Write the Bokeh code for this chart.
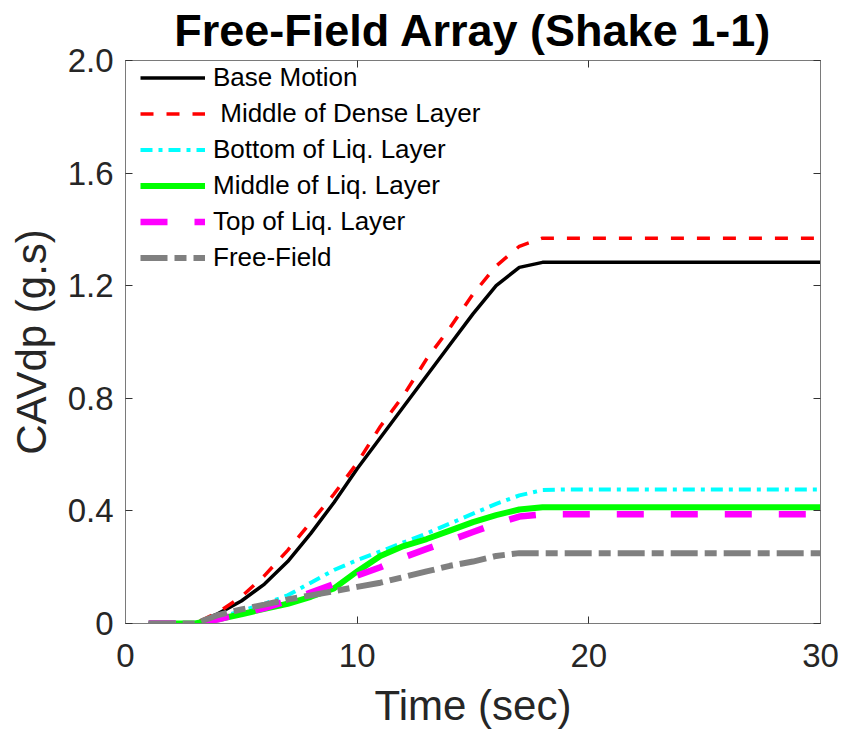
from bokeh.plotting import figure
from bokeh.models import LinearAxis, FixedTicker, Legend, LegendItem, Range1d, CustomLabelingPolicy
from bokeh.embed import file_html
from bokeh.resources import INLINE

# ---- data ----
time_s = [1, 2, 3, 4, 5, 6, 7, 8, 9, 10, 11, 12, 13, 14, 15,
          16, 17, 18, 19, 20, 21, 22, 23, 24, 25, 26, 27, 28, 29, 30]
base_motion = [0, 0, 0, 0.035, 0.08, 0.14, 0.22, 0.32, 0.43, 0.55, 0.66, 0.77, 0.88, 0.99, 1.10,
               1.20, 1.265, 1.283, 1.283, 1.283, 1.283, 1.283, 1.283, 1.283, 1.283, 1.283, 1.283, 1.283, 1.283, 1.283]
mid_dense = [0, 0, 0, 0.04, 0.095, 0.17, 0.26, 0.36, 0.46, 0.57, 0.70, 0.81, 0.94, 1.05, 1.17,
             1.27, 1.34, 1.369, 1.369, 1.369, 1.369, 1.369, 1.369, 1.369, 1.369, 1.369, 1.369, 1.369, 1.369, 1.369]
bot_liq = [0, 0, 0, 0.02, 0.045, 0.07, 0.10, 0.145, 0.19, 0.225, 0.256, 0.288, 0.32, 0.355, 0.39,
           0.425, 0.455, 0.474, 0.476, 0.476, 0.476, 0.476, 0.476, 0.476, 0.476, 0.476, 0.476, 0.476, 0.476, 0.476]
mid_liq = [0, 0, 0, 0.015, 0.033, 0.052, 0.07, 0.095, 0.125, 0.185, 0.24, 0.275, 0.30, 0.33, 0.36,
           0.385, 0.405, 0.413, 0.413, 0.413, 0.413, 0.413, 0.413, 0.413, 0.413, 0.413, 0.413, 0.413, 0.413, 0.413]
top_liq = [0, 0, 0, 0.015, 0.035, 0.055, 0.08, 0.11, 0.14, 0.17, 0.20, 0.235, 0.265, 0.295, 0.325,
           0.355, 0.38, 0.388, 0.388, 0.388, 0.388, 0.388, 0.388, 0.388, 0.388, 0.388, 0.388, 0.388, 0.388, 0.388]
free_field = [0, 0, 0, 0.03, 0.05, 0.067, 0.085, 0.10, 0.115, 0.13, 0.145, 0.165, 0.185, 0.205, 0.22,
              0.24, 0.25, 0.25, 0.25, 0.25, 0.25, 0.25, 0.25, 0.25, 0.25, 0.25, 0.25, 0.25, 0.25, 0.25]

series_labels = ["Base Motion", " Middle of Dense Layer", "Bottom of Liq. Layer",
                 "Middle of Liq. Layer", "Top of Liq. Layer", "Free-Field"]
x_ticks = [0, 10, 20, 30]
y_ticks = [0, 0.4, 0.8, 1.2, 1.6, 2.0]
y_tick_labels = ["0", "0.4", "0.8", "1.2", "1.6", "2.0"]

FONT = "Liberation Sans"
TICK_COL = "#262626"
FRAME_COL = "#7a7a7a"

p = figure(width=844, height=738, output_backend="svg", toolbar_location=None,
           x_range=Range1d(0, 30), y_range=Range1d(0, 2.0),
           min_border_left=125, min_border_right=24, min_border_top=60, min_border_bottom=115)
p.title.text = "Free-Field Array (Shake 1-1)"
p.title.text_font = FONT
p.title.text_font_size = "45px"
p.title.text_font_style = "bold"
p.title.text_color = "#000000"
p.title.align = "center"
p.title.offset = 0
p.title.standoff = 2

p.grid.visible = False
p.background_fill_color = "white"
p.border_fill_color = "white"
p.outline_line_color = FRAME_COL
p.outline_line_width = 1

def style_axis(ax, show_labels=True):
    ax.axis_line_color = FRAME_COL
    ax.major_tick_line_color = "#333333"
    ax.major_tick_in = 7
    ax.major_tick_out = 0
    ax.minor_tick_line_color = None
    ax.major_label_text_font = FONT
    ax.major_label_text_color = TICK_COL
    ax.major_label_text_font_size = "33px" if show_labels else "1px"
    ax.axis_label_text_font = FONT
    ax.axis_label_text_color = TICK_COL
    ax.axis_label_text_font_size = "42px"
    ax.axis_label_text_font_style = "normal"

xa = p.xaxis[0]
ya = p.yaxis[0]
xa.ticker = FixedTicker(ticks=x_ticks)
ya.ticker = FixedTicker(ticks=y_ticks)
ya.major_label_overrides = {t: l for t, l in zip(y_ticks, y_tick_labels)}
style_axis(xa)
style_axis(ya)
xa.axis_label = "Time (sec)"
ya.axis_label = "CAVdp (g.s)"
xa.major_label_standoff = 20
ya.major_label_standoff = 12
xa.axis_label_standoff = 12
ya.axis_label_standoff = 10

no_labels = CustomLabelingPolicy(code="return new Set()")
top_ax = LinearAxis(ticker=FixedTicker(ticks=x_ticks), major_label_policy=no_labels)
right_ax = LinearAxis(ticker=FixedTicker(ticks=y_ticks), major_label_policy=no_labels)
for ax in (top_ax, right_ax):
    style_axis(ax, show_labels=False)
    ax.major_label_standoff = 0
p.add_layout(top_ax, "above")
p.add_layout(right_ax, "right")

specs = [
    (base_motion, "#000000", 3.5, "solid"),
    (mid_dense, "#ff0000", 3.5, "13 13"),
    (bot_liq, "#00ffff", 4, "12 6 4 6"),
    (mid_liq, "#00ff00", 6, "solid"),
    (top_liq, "#ff00ff", 6.5, "27 27"),
    (free_field, "#808080", 6, "27 7 12 7"),
]
items = []
for (ys, col, lw, dash), lab in zip(specs, series_labels):
    r = p.line(time_s, ys, line_color=col, line_width=lw, line_dash=dash)
    items.append(LegendItem(label=lab, renderers=[r]))

legend = Legend(items=items, location=(15, 350))
legend.border_line_color = None
legend.background_fill_alpha = 0
legend.label_text_font = FONT
legend.label_text_font_size = "26px"
legend.label_text_color = "#000000"
legend.glyph_width = 65
legend.glyph_height = 31
legend.label_height = 31
legend.label_standoff = 8
legend.spacing = 5
legend.padding = 0
legend.margin = 0
p.add_layout(legend)

open("out.html", "w").write(file_html(p, INLINE))
